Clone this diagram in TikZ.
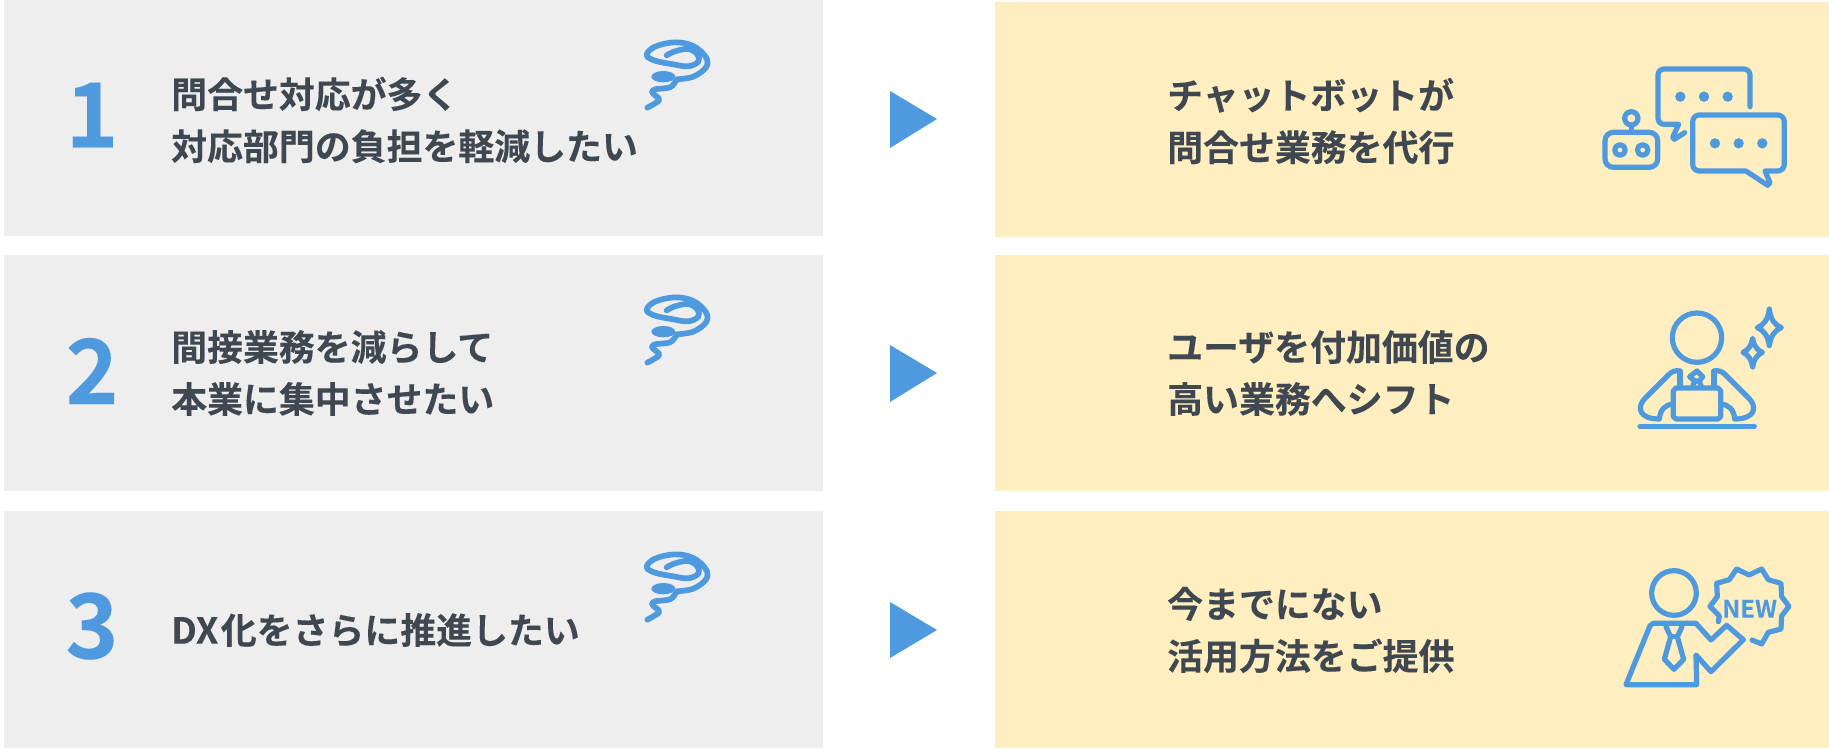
\documentclass[tikz,border=0pt]{standalone}
\usepackage{fontspec}
\setmainfont{Noto Sans CJK JP}[BoldFont={Noto Sans CJK JP Bold},BoldFeatures={FakeBold=0.12}]
\definecolor{iconblue}{HTML}{4F9ADF}
\definecolor{panelgray}{HTML}{EEEEEE}
\definecolor{panelyellow}{HTML}{FFEFC0}
\definecolor{inktext}{HTML}{3F4750}
\tikzset{
  x=1pt,y=-1pt,
  leftpanel/.style={fill=panelgray,draw=none},
  rightpanel/.style={fill=panelyellow,draw=none},
  pointer/.style={fill=iconblue,draw=none},
  ico/.style={draw=iconblue,line width=#1,line cap=round,line join=round},
  ico/.default=5.2,
  numlabel/.style={font=\fontsize{90}{90}\selectfont\bfseries,text=iconblue,inner sep=0pt},
  msg/.style={font=\fontsize{35.9}{52}\selectfont\bfseries,text=inktext,inner sep=0pt,align=left,anchor=west},
  tornado/.pic={
    \begin{scope}[x=0.3333pt,y=-0.3333pt]
    \draw[ico=5.7] plot[smooth,tension=0.6] coordinates {(140,106)(165,94)(205,87)(232,103)(235,125)(205,139)(160,133)(105,122)(80,105)(105,80)(165,67)(220,78)(258,112)(258,142)(220,170)(170,178)};
    \fill[iconblue] (130,170) ellipse (36 and 17);
    \draw[ico=5.7] plot[smooth,tension=0.6] coordinates {(168,182)(150,202)(105,208)(97,218)(118,238)(105,250)(82,263)};
    \end{scope}
  }
}
\begin{document}
\begin{tikzpicture}
\useasboundingbox (0,0) rectangle (1829,748);
% panels
\fill[leftpanel] (4,0) rectangle (823,236);
\fill[leftpanel] (4,255) rectangle (823,491);
\fill[leftpanel] (4,511) rectangle (823,748);
\fill[rightpanel] (995,2) rectangle (1829,237);
\fill[rightpanel] (995,255) rectangle (1829,491);
\fill[rightpanel] (995,511) rectangle (1829,748);
% numbers
\node[numlabel] (n1) at (92,115) {1};
\node[numlabel] (n2) at (92,371) {2};
\node[numlabel] (n3) at (92,626) {3};
% left texts
\node[msg] (l1) at (171,120) {問合せ対応が多く\\対応部門の負担を軽減したい};
\node[msg] (l2) at (171,373) {間接業務を減らして\\本業に集中させたい};
\node[msg] (l3) at (171,630) {DX\kern2.5pt 化をさらに推進したい};
% right texts
\node[msg] (r1) at (1167,121) {チャットボットが\\問合せ業務を代行};
\node[msg] (r2) at (1167,373) {ユーザを付加価値の\\高い業務へシフト};
\node[msg] (r3) at (1167,630) {今までにない\\活用方法をご提供};
% pointers
\fill[pointer] (890,91) -- (937,119) -- (890,148) -- cycle;
\fill[pointer] (890,345) -- (937,373) -- (890,402) -- cycle;
\fill[pointer] (890,602) -- (937,630) -- (890,658) -- cycle;
% tornado icons
\pic at (620,20) {tornado};
\pic at (620,275) {tornado};
\pic at (620,532) {tornado};
% chat icon
\begin{scope}[shift={(1580,50)},x=0.3333pt,y=-0.3333pt]
\draw[ico] (510,170) -- (510,75) arc[start angle=0,end angle=-90,radius=18] -- (252,57) arc[start angle=-90,end angle=-180,radius=18] -- (234,205) arc[start angle=180,end angle=90,radius=18] -- (296,223) -- (278,262) -- (283,268) -- (314,248);
\draw[ico] (355,195) -- (593,195) arc[start angle=-90,end angle=0,radius=20] -- (613,343) arc[start angle=0,end angle=90,radius=20] -- (555,363) -- (570,398) -- (563,406) -- (498,363) -- (358,363) arc[start angle=90,end angle=180,radius=20] -- (338,215) arc[start angle=180,end angle=270,radius=20] -- cycle;
\foreach \cx in {301,372,443} \fill[iconblue] (\cx,140) circle (15.5);
\foreach \cx in {405,476,547} \fill[iconblue] (\cx,280) circle (15.5);
\draw[ico] (154,205) circle (20);
\draw[ico] (154,225) -- (154,247);
\draw[ico] (100,247) -- (208,247) arc[start angle=-90,end angle=0,radius=25] -- (233,327) arc[start angle=0,end angle=90,radius=25] -- (100,352) arc[start angle=90,end angle=180,radius=25] -- (75,272) arc[start angle=180,end angle=270,radius=25] -- cycle;
\draw[ico] (120,300) circle (16);
\draw[ico] (188,300) circle (16);
\end{scope}
% worker icon
\begin{scope}[shift={(1600,295)},x=0.3333pt,y=-0.3333pt]
\draw[ico] (291,128) circle (74);
\draw[ico] (240,228) .. controls (225,225) and (215,230) .. (205,240) -- (135,310) .. controls (110,335) and (115,372) .. (178,372) .. controls (180,345) and (195,328) .. (220,328);
\draw[ico] (240,228) -- (240,275);
\draw[ico] (342,228) .. controls (357,225) and (367,230) .. (377,240) -- (447,310) .. controls (472,335) and (467,372) .. (404,372) .. controls (402,345) and (387,328) .. (362,328);
\draw[ico] (342,228) -- (342,275);
\draw[ico] (228,279) -- (354,279) -- (362,287) -- (362,365) -- (354,372) -- (228,372) -- (220,365) -- (220,287) -- cycle;
\draw[ico] (291,228) -- (308,245) -- (298,258) -- (284,258) -- (269,245) -- cycle;
\draw[ico] (284,258) -- (278,275);
\draw[ico] (298,258) -- (304,275);
\draw[ico] (120,394) -- (463,394);
\draw[ico] (508,42) .. controls (512,75) and (525,90) .. (544,98) .. controls (525,106) and (512,122) .. (508,152) .. controls (504,122) and (491,106) .. (472,98) .. controls (491,90) and (504,75) .. (508,42) -- cycle;
\draw[ico] (458,130) .. controls (461,150) and (470,165) .. (487,172) .. controls (470,180) and (461,195) .. (458,216) .. controls (455,195) and (446,180) .. (429,172) .. controls (446,165) and (455,150) .. (458,130) -- cycle;
\end{scope}
% new icon
\begin{scope}[shift={(1600,555)},x=0.3333pt,y=-0.3333pt]
\draw[ico] (222,114) circle (67);
\draw[ico] (78,389) -- (290,389) -- (288,300) -- (333,350) -- (430,254) -- (380,211) -- (333,255) -- (288,205) -- (160,205) -- (150,212) -- cycle;
\draw[ico] (198,215) -- (212,245) -- (193,313) -- (222,343) -- (251,313) -- (232,245) -- (246,215);
\draw[ico] (212,245) -- (232,245);
\draw[ico] (355,200) -- (358,183) -- (330,154) -- (352,125) -- (350,85) -- (388,74) -- (410,42) -- (447,60) -- (485,42) -- (505,74) -- (543,85) -- (545,125) -- (567,154) -- (545,183) -- (543,222) -- (505,232) -- (485,267) -- (456,255);
\node[font=\fontsize{24}{24}\selectfont\bfseries,text=iconblue,inner sep=0pt] (newl) at (449,161) {NEW};
\end{scope}
\end{tikzpicture}
\end{document}
